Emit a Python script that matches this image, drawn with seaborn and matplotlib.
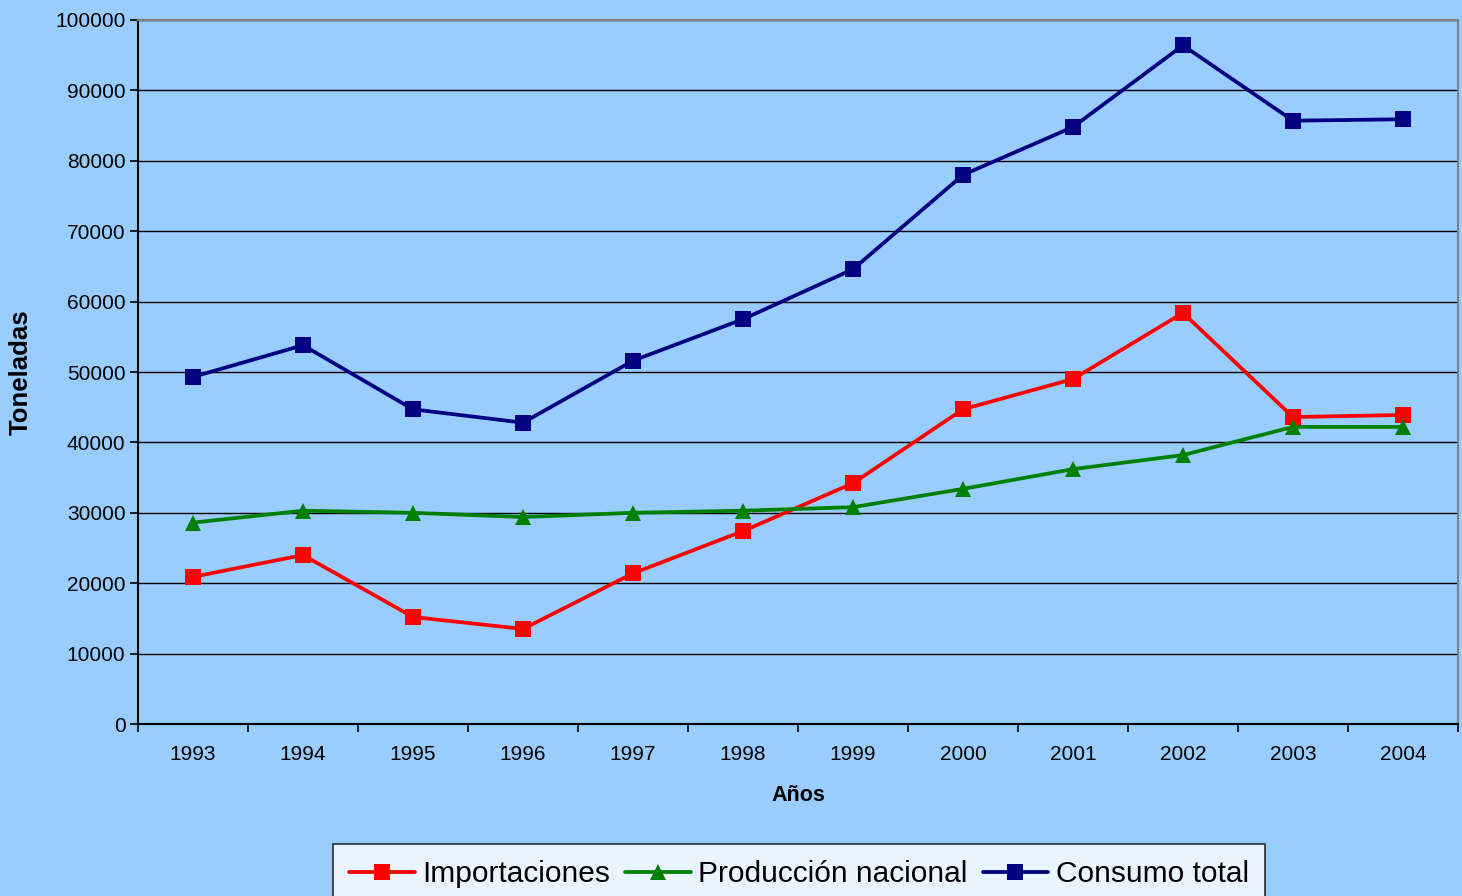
import matplotlib
matplotlib.use("Agg")
import matplotlib.pyplot as plt
import seaborn as sns
import pandas as pd
from matplotlib.ticker import FixedLocator, MultipleLocator
from matplotlib.lines import Line2D

years = ["1993", "1994", "1995", "1996", "1997", "1998", "1999", "2000", "2001", "2002", "2003", "2004"]
importaciones = [20900, 24000, 15200, 13500, 21400, 27400, 34200, 44700, 49000, 58400, 43600, 43900]
produccion = [28600, 30300, 30000, 29400, 30000, 30300, 30800, 33400, 36200, 38200, 42200, 42200]
consumo = [49300, 53800, 44700, 42800, 51600, 57500, 64600, 78000, 84800, 96400, 85700, 85900]
series_names = ["Importaciones", "Producción nacional", "Consumo total"]
colors = ["#FF0000", "#008000", "#000080"]
markers = ["s", "^", "s"]

rows = []
for name, vals in zip(series_names, [importaciones, produccion, consumo]):
    for i, v in enumerate(vals):
        rows.append({"idx": i, "valor": v, "serie": name})
df = pd.DataFrame(rows)

sns.set_style("white")
plt.rcParams['font.family'] = ['Liberation Sans', 'DejaVu Sans']
plt.rcParams['text.color'] = 'black'
plt.rcParams['axes.labelcolor'] = 'black'
plt.rcParams['xtick.color'] = 'black'
plt.rcParams['ytick.color'] = 'black'

bg = "#99CCFF"
fig = plt.figure(figsize=(14.62, 8.96), dpi=100, facecolor=bg)
ax = fig.add_axes([138/1462, 1-724/896, (1458-138)/1462, (724-20)/896])
ax.set_facecolor(bg)

lw = 2.7
ms = 11.5
sns.lineplot(data=df, x="idx", y="valor", hue="serie", style="serie",
             palette=dict(zip(series_names, colors)),
             markers=dict(zip(series_names, markers)), dashes=False,
             linewidth=lw, markersize=ms, markeredgewidth=0, ax=ax, legend=False)

ax.set_xlim(-0.5, 11.5)
ax.set_ylim(0, 100000)
ax.yaxis.set_major_locator(MultipleLocator(10000))
ax.yaxis.grid(True, color="black", linewidth=1)
ax.xaxis.grid(False)
ax.set_axisbelow(True)

ax.set_xticks(range(len(years)))
ax.set_xticklabels(years)
ax.xaxis.set_minor_locator(FixedLocator([i - 0.5 for i in range(len(years) + 1)]))
ax.tick_params(axis="x", which="major", length=0, pad=15, labelsize=15)
ax.tick_params(axis="x", which="minor", length=6, width=1.2, color="black", direction="out", bottom=True)
ax.tick_params(axis="y", which="major", length=6, width=1.2, color="black", direction="out", left=True, labelsize=15, pad=3)

for side in ["left", "bottom"]:
    ax.spines[side].set_color("black")
    ax.spines[side].set_linewidth(1.5)
for side in ["top", "right"]:
    ax.spines[side].set_visible(True)
    ax.spines[side].set_color("#808080")
    ax.spines[side].set_linewidth(1.5)

ax.set_xlabel("Años", fontsize=15.5, fontweight="bold", labelpad=15)
ax.set_ylabel("Toneladas", fontsize=18.5, fontweight="bold", labelpad=16)

handles = [Line2D([0], [0], color=c, marker=m, linewidth=lw, markersize=ms, markeredgewidth=0)
           for c, m in zip(colors, markers)]
leg = fig.legend(handles, series_names, loc="upper center", bbox_to_anchor=(799/1462, 1-844/896),
                 ncol=3, frameon=True, fancybox=False, fontsize=21.5, handlelength=2.2,
                 handletextpad=0.25, columnspacing=0.5, borderpad=0.55, borderaxespad=0)
leg.get_frame().set_facecolor("white")
leg.get_frame().set_edgecolor("black")
leg.get_frame().set_linewidth(1.2)

fig.savefig("out.png", dpi=100, facecolor=bg)
